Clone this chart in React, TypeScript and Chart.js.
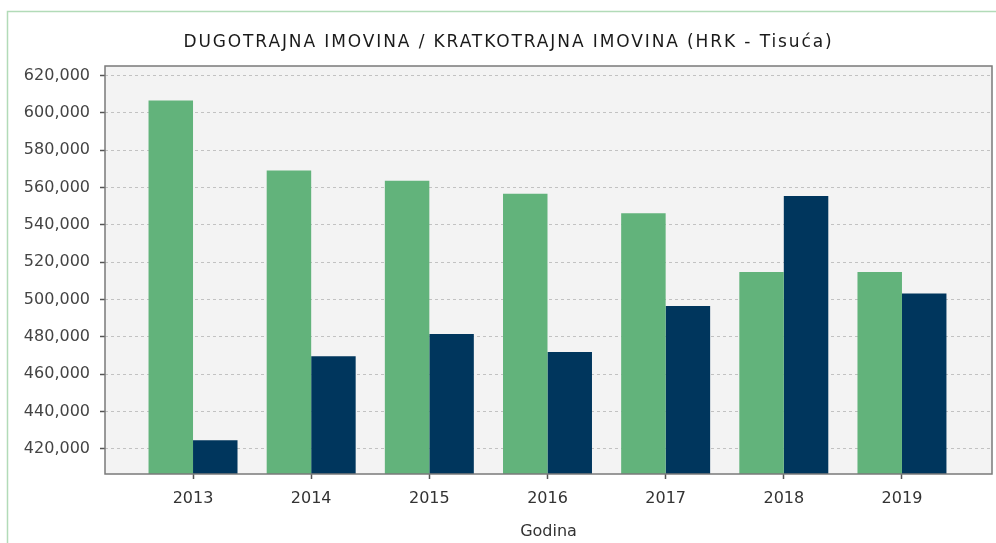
import React, { useEffect, useRef } from 'react';
import { Chart, registerables } from 'chart.js';

Chart.register(...registerables);

const years = [2013, 2014, 2015, 2016, 2017, 2018, 2019];
const dugotrajna = [606700, 569200, 563700, 556700, 546200, 514800, 514800];
const kratkotrajna = [424700, 469600, 481600, 471900, 496600, 555500, 503200];
const yTickValues = [420000, 440000, 460000, 480000, 500000, 520000, 540000, 560000, 580000, 600000, 620000];
const chartTitle = 'DUGOTRAJNA IMOVINA / KRATKOTRAJNA IMOVINA (HRK - Tisuća)';
const xAxisTitle = 'Godina';

const FONT = '"DejaVu Sans", sans-serif';

export default function App() {
  const ref = useRef<HTMLCanvasElement>(null);

  useEffect(() => {
    if (!ref.current) return;
    const framePlugin = {
      id: 'frame',
      beforeDraw(chart: any) {
        const { ctx, chartArea: a, width, height } = chart;
        ctx.save();
        ctx.fillStyle = '#ffffff';
        ctx.fillRect(0, 0, width, height);
        ctx.strokeStyle = '#b2dbb8';
        ctx.lineWidth = 1.5;
        ctx.beginPath();
        ctx.moveTo(7.5, height);
        ctx.lineTo(7.5, 11.5);
        ctx.lineTo(width, 11.5);
        ctx.stroke();
        ctx.fillStyle = '#f3f3f3';
        ctx.fillRect(a.left, a.top, a.right - a.left, a.bottom - a.top);
        // chart title
        (ctx as any).letterSpacing = '1.9px';
        ctx.fillStyle = '#1a1a1a';
        ctx.font = '17px ' + FONT;
        ctx.textAlign = 'center';
        ctx.textBaseline = 'middle';
        ctx.fillText(chartTitle, 508.5, 43);
        (ctx as any).letterSpacing = '0px';
        ctx.restore();
      },
      afterDatasetsDraw(chart: any) {
        const { ctx, chartArea: a } = chart;
        ctx.save();
        ctx.strokeStyle = '#7a7a7a';
        ctx.lineWidth = 1.5;
        ctx.strokeRect(a.left, a.top, a.right - a.left, a.bottom - a.top);
        ctx.restore();
      },
    };

    const chart = new Chart(ref.current, {
      type: 'bar',
      data: {
        datasets: [
          {
            label: 'Dugotrajna imovina',
            data: years.map((y, i) => ({ x: y, y: dugotrajna[i] })),
            backgroundColor: '#62b37b',
            borderWidth: 0,
            categoryPercentage: 0.753,
            barPercentage: 1.0,
          },
          {
            label: 'Kratkotrajna imovina',
            data: years.map((y, i) => ({ x: y, y: kratkotrajna[i] })),
            backgroundColor: '#00365d',
            borderWidth: 0,
            categoryPercentage: 0.753,
            barPercentage: 1.0,
          },
        ],
      },
      options: {
        animation: false,
        responsive: false,
        layout: { padding: { left: 23, right: 4, top: 66, bottom: 0 } },
        plugins: {
          legend: { display: false },
          tooltip: { enabled: false },
          title: { display: false },
        },
        scales: {
          x: {
            type: 'linear',
            offset: false,
            min: 2012.255,
            max: 2019.762,
            afterBuildTicks: (scale: any) => {
              scale.ticks = years.map((v) => ({ value: v }));
            },
            afterFit: (scale: any) => {
              scale.height = 69;
            },
            border: { display: false },
            grid: {
              offset: false,
              drawOnChartArea: false,
              drawTicks: true,
              tickLength: 5,
              tickColor: '#555555',
              tickWidth: 1.5,
            },
            ticks: {
              autoSkip: false,
              maxRotation: 0,
              padding: 10,
              color: '#333333',
              font: { family: FONT, size: 16 },
              callback: (v: any) => String(v),
            },
            title: {
              display: true,
              text: xAxisTitle,
              color: '#333333',
              font: { family: FONT, size: 16 },
              padding: { top: 4, bottom: 2 },
            },
          },
          y: {
            min: 406560,
            max: 625140,
            afterBuildTicks: (scale: any) => {
              scale.ticks = yTickValues.map((v) => ({ value: v }));
            },
            afterFit: (scale: any) => {
              scale.width = 82;
            },
            border: { display: false, dash: [3, 3] },
            grid: {
              color: '#c2c2c2',
              lineWidth: 1,
              drawTicks: true,
              tickLength: 5,
              tickColor: '#555555',
              tickWidth: 1.5,
            },
            ticks: {
              padding: 10,
              color: '#444444',
              font: { family: FONT, size: 16 },
              callback: (v: any) => Number(v).toLocaleString('en-US'),
            },
          },
        },
      },
      plugins: [framePlugin],
    } as any);

    return () => chart.destroy();
  }, []);

  return (
    <div style={{ position: 'absolute', left: 0, top: 0, width: 996, height: 543, overflow: 'hidden' }}>
      <canvas ref={ref} width={996} height={543} style={{ display: 'block' }} />
    </div>
  );
}
